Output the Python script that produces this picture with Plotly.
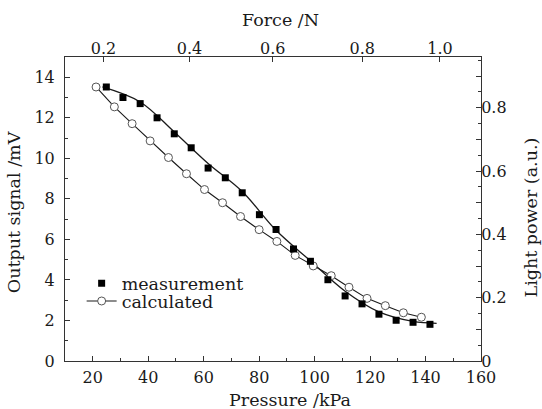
import plotly.graph_objects as go

# ---------------- data ----------------
meas_pressure = [24.9, 30.9, 37.1, 43.2, 49.4, 55.5, 61.6, 67.8, 73.9, 80.1,
                 86.1, 92.4, 98.5, 104.8, 111.0, 117.1, 123.2, 129.4, 135.5, 141.6]
meas_signal = [13.52, 13.0, 12.7, 12.0, 11.21, 10.52, 9.52, 9.04, 8.3, 7.22,
               6.49, 5.53, 4.92, 4.01, 3.21, 2.82, 2.31, 2.01, 1.91, 1.81]

fit_pressure = [23.5, 37.1, 49.4, 61.6, 73.9, 86.1, 98.5, 110.9, 123.2, 135.5, 144.0]
fit_signal = [13.52, 12.78, 11.3, 9.75, 8.36, 6.45, 4.94, 3.45, 2.42, 1.95, 1.86]

calc_pressure = [21.2, 27.8, 34.2, 40.7, 47.3, 53.8, 60.3, 66.8, 73.3, 80.0,
                 86.4, 93.0, 99.5, 106.0, 112.4, 118.9, 125.5, 132.0, 138.5]
calc_signal = [13.52, 12.54, 11.71, 10.86, 10.04, 9.24, 8.46, 7.81, 7.13, 6.48,
               5.90, 5.21, 4.69, 4.21, 3.64, 3.09, 2.73, 2.38, 2.16]

# top axis: force tick labels and the pressure they sit above
force_tick_labels = ["0.2", "0.4", "0.6", "0.8", "1.0"]
force_tick_pressure = [23.9, 54.9, 84.9, 117.2, 145.2]

# right axis: light power ticks
power_tick_vals = [0, 0.1, 0.2, 0.3, 0.4, 0.5, 0.6, 0.7, 0.8, 0.9]
power_tick_text = ["0", "", "0.2", "", "0.4", "", "0.6", "", "0.8", ""]

FONT = "DejaVu Serif"
INK = "#1a1a1a"
TITLE_SIZE = 17.5

fig = go.Figure()

fig.add_trace(go.Scatter(
    x=fit_pressure, y=fit_signal, mode="lines",
    line=dict(color=INK, width=1.3, shape="spline", smoothing=1.0),
    showlegend=False, hoverinfo="skip"))

fig.add_trace(go.Scatter(
    x=calc_pressure, y=calc_signal, mode="lines+markers", name="calculated",
    line=dict(color=INK, width=1.1),
    marker=dict(symbol="circle", size=8, color="white",
                line=dict(color="#555555", width=1)),
    legend="legend2"))

fig.add_trace(go.Scatter(
    x=meas_pressure, y=meas_signal, mode="markers", name="measurement",
    marker=dict(symbol="square", size=7, color="black"),
    legend="legend"))

# dummy trace to activate the top / right axes
fig.add_trace(go.Scatter(x=[None], y=[None], xaxis="x2", yaxis="y2",
                         showlegend=False, hoverinfo="skip"))

axis_common = dict(showline=True, linecolor="#333333", linewidth=1,
                   showgrid=False, zeroline=False, ticks="inside",
                   tickcolor="#333333", ticklen=5, tickwidth=1, automargin=False,
                   tickfont=dict(family=FONT, size=16, color=INK))

fig.update_layout(
    width=542, height=409,
    margin=dict(l=65, r=61, t=57, b=48, pad=0),
    paper_bgcolor="white", plot_bgcolor="white",
    font=dict(family=FONT, size=16, color=INK),
    xaxis=dict(**axis_common, range=[10, 160], tick0=0, dtick=20,
               minor=dict(dtick=10, ticks="inside", ticklen=3, tickcolor="#333333"),
               ticklabelstandoff=2),
    xaxis2=dict(**axis_common, overlaying="x", side="top", range=[10, 160],
                tickmode="array", tickvals=force_tick_pressure, ticktext=force_tick_labels,
                ticklabelstandoff=-4),
    yaxis=dict(**axis_common, range=[0, 15], tick0=0, dtick=2,
               minor=dict(dtick=1, ticks="inside", ticklen=3, tickcolor="#333333"),
               ticklabelstandoff=6),
    yaxis2=dict(**axis_common, overlaying="y", side="right", range=[0, 0.96],
                tickmode="array", tickvals=power_tick_vals, ticktext=power_tick_text,
                minor=dict(dtick=0.05, ticks="inside", ticklen=3, tickcolor="#333333"),
                ticklabelstandoff=-4),
    legend=dict(x=0.040, y=0.255, xanchor="left", yanchor="middle",
                bgcolor="rgba(0,0,0,0)", borderwidth=0,
                font=dict(family=FONT, size=17.5, color=INK)),
    legend2=dict(x=0.040, y=0.197, xanchor="left", yanchor="middle",
                 bgcolor="rgba(0,0,0,0)", borderwidth=0,
                 font=dict(family=FONT, size=17.5, color=INK)),
    annotations=[
        dict(text="Force /N", xref="paper", yref="paper", x=0.518, y=1.122,
             xanchor="center", yanchor="middle", showarrow=False,
             font=dict(family=FONT, size=TITLE_SIZE, color=INK)),
        dict(text="Pressure /kPa", xref="paper", yref="paper", x=0.54, y=-0.128,
             xanchor="center", yanchor="middle", showarrow=False,
             font=dict(family=FONT, size=TITLE_SIZE, color=INK)),
        dict(text="Output signal /mV", xref="paper", yref="paper", x=-0.124, y=0.491,
             xanchor="center", yanchor="middle", showarrow=False, textangle=-90,
             font=dict(family=FONT, size=TITLE_SIZE, color=INK)),
        dict(text="Light power (a.u.)", xref="paper", yref="paper", x=1.12, y=0.472,
             xanchor="center", yanchor="middle", showarrow=False, textangle=-90,
             font=dict(family=FONT, size=TITLE_SIZE, color=INK)),
    ],
)

fig.write_html("out.html", config={"displayModeBar": False},
               post_script="document.body.style.margin='0';")
